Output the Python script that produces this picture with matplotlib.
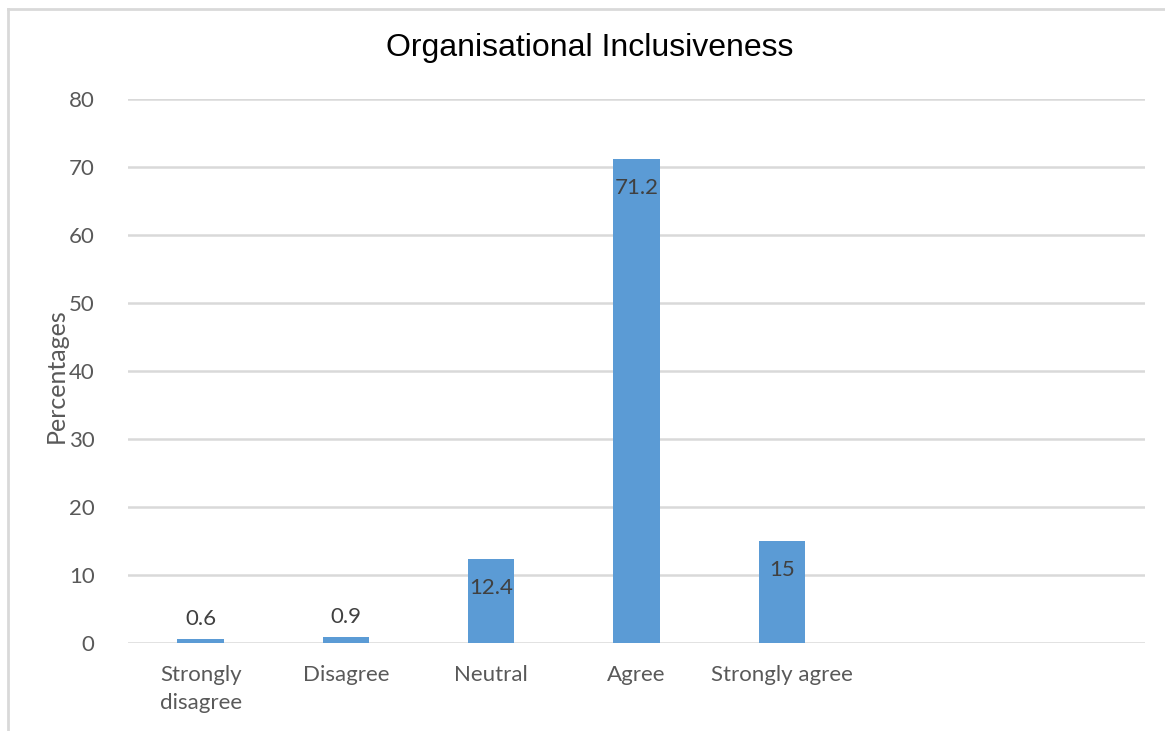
import matplotlib
matplotlib.use("Agg")
import matplotlib.pyplot as plt
from matplotlib.lines import Line2D

# Survey responses (percent)
categories = ["Strongly\ndisagree", "Disagree", "Neutral", "Agree", "Strongly agree", "", ""]
values = [0.6, 0.9, 12.4, 71.2, 15]
value_labels = ["0.6", "0.9", "12.4", "71.2", "15"]
yticks = [0, 10, 20, 30, 40, 50, 60, 70, 80]

bar_color = "#5B9BD5"
grid_color = "#D9D9D9"
text_color = "#595959"
label_color = "#404040"
body_font = ["Lato", "DejaVu Sans"]

fig = plt.figure(figsize=(11.65, 7.31), dpi=100)
ax = fig.add_axes([128 / 1165, 1 - 643 / 731, (1145 - 128) / 1165, (643 - 99) / 731])

x = list(range(len(categories)))
bars = ax.bar(x[:len(values)], values, width=0.32, color=bar_color, zorder=3)

ax.set_xlim(-0.5, len(categories) - 0.5)
ax.set_ylim(0, 80)
ax.set_yticks(yticks)
ax.set_yticklabels([str(t) for t in yticks], fontsize=16, color=text_color,
                   family=body_font)
ax.set_xticks(x)
ax.set_xticklabels(categories, fontsize=16, color=text_color, family=body_font,
                   linespacing=1.5, va="top")
ax.tick_params(axis="both", length=0)
ax.tick_params(axis="y", pad=24)
ax.tick_params(axis="x", pad=16)

ax.yaxis.grid(True, color=grid_color, linewidth=1.8, zorder=0)
for s in ax.spines.values():
    s.set_visible(False)

ax.set_ylabel("Percentages", fontsize=18, color=text_color, family=body_font,
              labelpad=-2)
ax.yaxis.set_label_coords(-60 / 1017, 0.5 - 5 / 544)

# Value labels: inside the top of tall bars, above short ones
for rect, v, lab in zip(bars, values, value_labels):
    cx = rect.get_x() + rect.get_width() / 2
    if v > 5:
        ax.annotate(lab, (cx, v), xytext=(0, -14), textcoords="offset points",
                    ha="center", va="top", fontsize=16, color=label_color,
                    family=body_font, zorder=4)
    else:
        ax.annotate(lab, (cx, v), xytext=(0, 7), textcoords="offset points",
                    ha="center", va="bottom", fontsize=16, color=label_color,
                    family=body_font, zorder=4)

fig.text(590 / 1165, 1 - 48 / 731, "Organisational Inclusiveness", ha="center",
         va="center", fontsize=23, color="#000000",
         family=["Liberation Sans", "DejaVu Sans"])

# Chart frame
fig.add_artist(Line2D([8 / 1165, 1], [1 - 9 / 731, 1 - 9 / 731],
                      transform=fig.transFigure, color=grid_color, linewidth=2))
fig.add_artist(Line2D([8 / 1165, 8 / 1165], [0, 1 - 9 / 731],
                      transform=fig.transFigure, color=grid_color, linewidth=2))

fig.savefig("out.png", dpi=100, facecolor="white")
